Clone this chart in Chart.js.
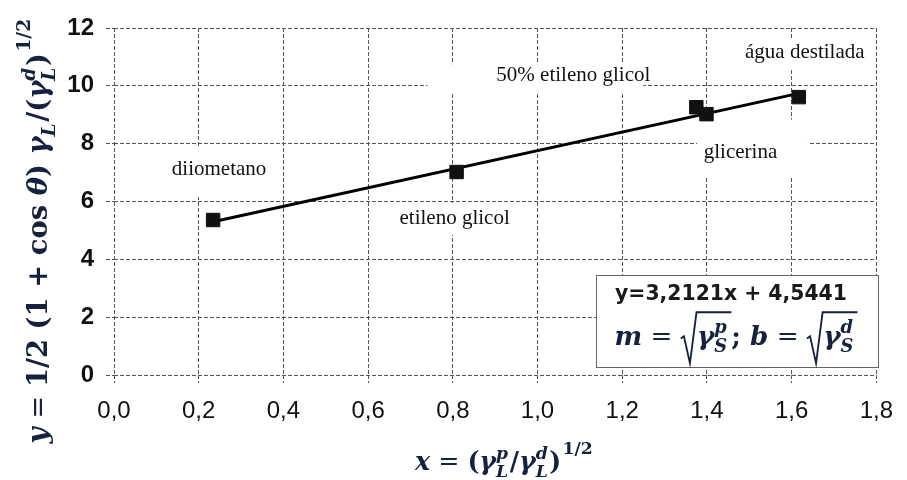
<!DOCTYPE html>
<html>
<head>
<meta charset="utf-8">
<script src="https://cdn.jsdelivr.net/npm/chart.js@4/dist/chart.umd.min.js"></script>
<style>
  body { margin: 0; background: #fff; }
  #wrap { width: 907px; height: 480px; }
</style>
</head>
<body>
<div id="wrap"><canvas id="myChart" width="907" height="480"></canvas></div>
<script>
// dados
const liquids = ['diiometano', 'etileno glicol', '50% etileno glicol', 'glicerina', 'água destilada'];
const xValues = [0.234, 0.809, 1.375, 1.399, 1.617];
const yValues = [5.36, 7.02, 9.26, 9.02, 9.61];
const trendX = [0.234, 1.617];
const trendY = [5.30, 9.74];
const xTicks = [0, 0.2, 0.4, 0.6, 0.8, 1.0, 1.2, 1.4, 1.6, 1.8];
const yTicks = [0, 2, 4, 6, 8, 10, 12];
const equationText = 'y=3,2121x + 4,5441';

// posição dos rótulos (px, relativa ao ponto) e caixa branca atrás [dx, dy, w, h]
const labelOffset = [[6, -51], [-2, 46], [-123, -32], [34, 38], [6, -45]];
const labelBox = [[0, 3, 110, 50], [0, 1, 125, 32], [-38, 4, 216, 30], [12, -4, 111, 57], [0, 2, 138, 32]];

const ink = '#15213d';

function mathFont(size, it, bold) {
    return (it ? 'italic ' : '') + (bold ? 'bold ' : '') + size + 'px "DejaVu Serif"';
}

function runMath(ctx, segs, x, y, s, draw) {
    let cx = x;
    for (const g of segs) {
        if (g.sqrt) {
            const bw = runMath(ctx, g.sqrt, 0, 0, s, false);
            const bx = cx + 0.62 * s;
            if (draw) {
                ctx.save();
                ctx.lineWidth = Math.max(1.5, s * 0.07);
                ctx.strokeStyle = ctx.fillStyle;
                ctx.beginPath();
                ctx.moveTo(cx, y - 0.25 * s);
                ctx.lineTo(cx + 0.12 * s, y - 0.33 * s);
                ctx.lineTo(cx + 0.35 * s, y + 0.7 * s);
                ctx.lineTo(cx + 0.6 * s, y - 1.25 * s);
                ctx.lineTo(bx + bw + 0.1 * s, y - 1.25 * s);
                ctx.stroke();
                ctx.restore();
                runMath(ctx, g.sqrt, bx, y, s, true);
            }
            cx = bx + bw + 0.1 * s;
        } else if (g.sub !== undefined || g.sup !== undefined) {
            const ss = s * 0.68;
            let w = 0;
            if (g.sub) {
                ctx.font = mathFont(ss, true, true);
                w = Math.max(w, ctx.measureText(g.sub).width);
                if (draw) ctx.fillText(g.sub, cx, y + 0.28 * s);
            }
            if (g.sup) {
                ctx.font = mathFont(ss, !g.up, true);
                w = Math.max(w, ctx.measureText(g.sup).width);
                if (draw) ctx.fillText(g.sup, cx + (g.up ? 0.05 * s : 0), y - (g.up ? 0.62 : 0.45) * s);
            }
            cx += w + 0.06 * s;
        } else {
            ctx.font = mathFont(s, g.it, !g.r);
            if (draw) ctx.fillText(g.t, cx, y);
            cx += ctx.measureText(g.t).width;
        }
    }
    return cx - x;
}

function fitSize(ctx, segs, target) {
    const w = runMath(ctx, segs, 0, 0, 20, false);
    return 20 * target / w;
}

const yTitle = [
    { t: 'y', it: true }, { t: ' = ', r: true }, { t: '1/2' }, { t: ' (1 + cos ' }, { t: 'θ', it: true },
    { t: ') ' }, { t: 'γ', it: true }, { sub: 'L' }, { t: '/(' }, { t: 'γ', it: true },
    { sub: 'L', sup: 'd' }, { t: ')' }, { sup: '1/2', up: true }
];
const xTitle = [
    { t: 'x', it: true }, { t: ' = ', r: true }, { t: '(' }, { t: 'γ', it: true }, { sub: 'L', sup: 'p' },
    { t: '/' }, { t: 'γ', it: true }, { sub: 'L', sup: 'd' }, { t: ')' }, { sup: '1/2', up: true }
];
const boxMath = [
    { t: 'm', it: true }, { t: ' = ', r: true }, { sqrt: [{ t: 'γ', it: true }, { sub: 'S', sup: 'p' }] },
    { t: '; ' }, { t: 'b', it: true }, { t: ' = ', r: true }, { sqrt: [{ t: 'γ', it: true }, { sub: 'S', sup: 'd' }] }
];

const decorations = {
    id: 'decorations',
    beforeDatasetsDraw(chart) {
        const ctx = chart.ctx;
        const meta = chart.getDatasetMeta(0);
        ctx.save();
        meta.data.forEach((pt, i) => {
            const cx = pt.x + labelOffset[i][0];
            const cy = pt.y + labelOffset[i][1];
            const b = labelBox[i];
            ctx.fillStyle = '#fff';
            ctx.fillRect(cx + b[0] - b[2] / 2, cy + b[1] - b[3] / 2, b[2], b[3]);
        });
        ctx.fillStyle = '#111';
        ctx.font = '21px "Liberation Serif"';
        ctx.textAlign = 'center';
        ctx.textBaseline = 'middle';
        meta.data.forEach((pt, i) => {
            ctx.fillText(liquids[i], pt.x + labelOffset[i][0], pt.y + labelOffset[i][1]);
        });
        ctx.restore();
    },
    afterDraw(chart) {
        const ctx = chart.ctx;
        ctx.save();
        ctx.fillStyle = ink;
        ctx.textAlign = 'left';
        ctx.textBaseline = 'alphabetic';

        // título do eixo y
        const sy = fitSize(ctx, yTitle, 425);
        const wy = runMath(ctx, yTitle, 0, 0, sy, false);
        ctx.save();
        ctx.translate(47, 231);
        ctx.rotate(-Math.PI / 2);
        runMath(ctx, yTitle, -wy / 2, 0, sy, true);
        ctx.restore();

        // título do eixo x
        const sx = fitSize(ctx, xTitle, 178);
        const wx = runMath(ctx, xTitle, 0, 0, sx, false);
        runMath(ctx, xTitle, 504 - wx / 2, 470, sx, true);

        // caixa da equação
        ctx.fillStyle = '#fff';
        ctx.strokeStyle = '#666';
        ctx.lineWidth = 1;
        ctx.fillRect(596.5, 275.5, 282, 92);
        ctx.strokeRect(596.5, 275.5, 282, 92);

        ctx.fillStyle = '#1a1a1a';
        ctx.font = 'bold 18px "DejaVu Sans"';
        const ew = ctx.measureText(equationText).width;
        ctx.font = 'bold ' + (18 * 232 / ew).toFixed(2) + 'px "DejaVu Sans"';
        ctx.textBaseline = 'middle';
        ctx.textAlign = 'center';
        ctx.fillText(equationText, 731, 295);

        ctx.textAlign = 'left';
        ctx.textBaseline = 'alphabetic';
        ctx.fillStyle = ink;
        const sb = fitSize(ctx, boxMath, 243);
        const wb = runMath(ctx, boxMath, 0, 0, sb, false);
        runMath(ctx, boxMath, 736 - wb / 2, 345, sb, true);
        ctx.restore();
    }
};

const gridStyle = {
    color: '#555',
    lineWidth: 1,
    tickLength: 8,
    tickColor: '#555',
    tickBorderDash: [4, 2]
};

new Chart(document.getElementById('myChart').getContext('2d'), {
    type: 'scatter',
    data: {
        datasets: [{
            label: 'pontos',
            data: xValues.map((x, i) => ({ x: x, y: yValues[i] })),
            pointStyle: 'rect',
            pointRadius: 9.5,
            backgroundColor: '#111',
            borderColor: '#111',
            borderWidth: 1
        }, {
            label: 'ajuste',
            data: trendX.map((x, i) => ({ x: x, y: trendY[i] })),
            showLine: true,
            borderColor: '#000',
            borderWidth: 3,
            pointRadius: 0
        }]
    },
    options: {
        responsive: false,
        animation: false,
        layout: { padding: { top: 28, right: 25, left: 0, bottom: 0 } },
        scales: {
            x: {
                type: 'linear',
                min: 0,
                max: 1.8,
                afterBuildTicks: s => { s.ticks = xTicks.map(v => ({ value: v })); },
                afterFit: s => { s.height = 105; },
                grid: gridStyle,
                border: { display: false, dash: [4, 2] },
                ticks: {
                    padding: 14,
                    color: '#111',
                    font: { family: '"Liberation Sans", Arial', size: 24 },
                    callback: v => v.toFixed(1).replace('.', ',')
                }
            },
            y: {
                type: 'linear',
                min: 0,
                max: 12,
                afterBuildTicks: s => { s.ticks = yTicks.map(v => ({ value: v })); },
                afterFit: s => { s.width = 114; },
                grid: gridStyle,
                border: { display: false, dash: [4, 2] },
                ticks: {
                    padding: 12,
                    color: '#111',
                    font: { family: '"Liberation Sans", Arial', size: 24, weight: 'bold' },
                    callback: v => String(v)
                }
            }
        },
        plugins: {
            legend: { display: false },
            tooltip: { enabled: false }
        }
    },
    plugins: [decorations]
});
</script>
</body>
</html>
